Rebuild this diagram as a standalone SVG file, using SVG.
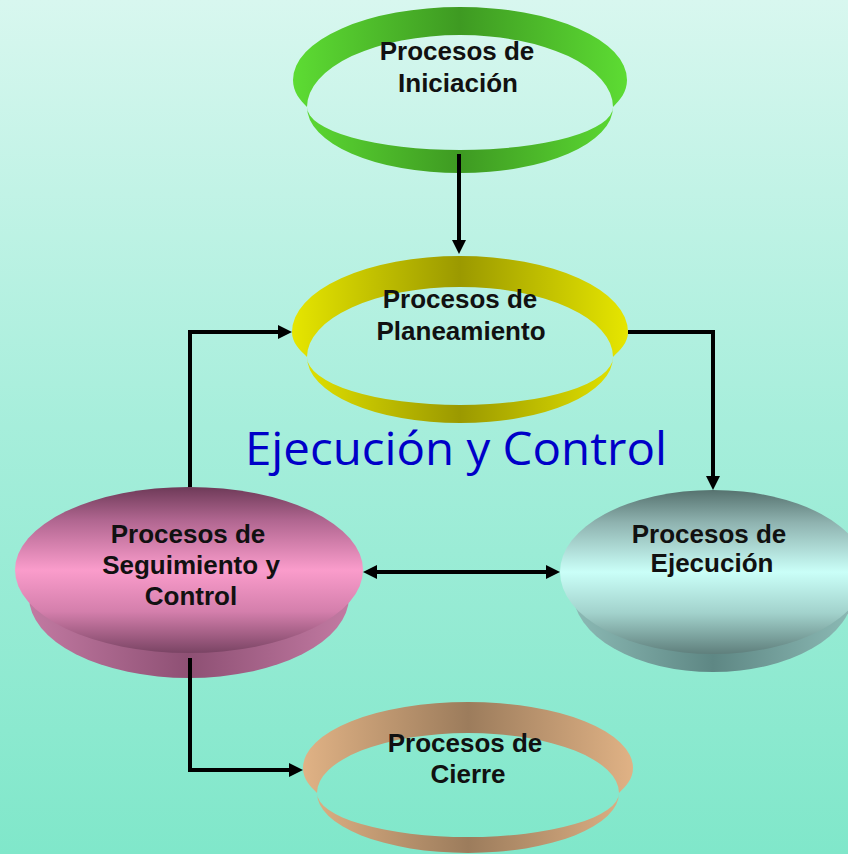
<svg xmlns="http://www.w3.org/2000/svg" width="848" height="854" viewBox="0 0 848 854">
<defs>
<linearGradient id="bg" x1="0" y1="0" x2="0" y2="1">
<stop offset="0" stop-color="#d8f7ef"/>
<stop offset="0.5" stop-color="#a6eedb"/>
<stop offset="1" stop-color="#80e7ca"/>
</linearGradient>
<linearGradient id="gGreen" x1="0" y1="0" x2="1" y2="0">
<stop offset="0" stop-color="#5ddc33"/>
<stop offset="0.5" stop-color="#3e9a22"/>
<stop offset="1" stop-color="#5ddc33"/>
</linearGradient>
<linearGradient id="gYellow" x1="0" y1="0" x2="1" y2="0">
<stop offset="0" stop-color="#e6e600"/>
<stop offset="0.5" stop-color="#9b9900"/>
<stop offset="1" stop-color="#e6e600"/>
</linearGradient>
<linearGradient id="gTan" x1="0" y1="0" x2="1" y2="0">
<stop offset="0" stop-color="#e0b285"/>
<stop offset="0.5" stop-color="#9c7c5c"/>
<stop offset="1" stop-color="#e0b285"/>
</linearGradient>
<linearGradient id="gPinkTop" x1="0" y1="0" x2="0" y2="1">
<stop offset="0" stop-color="#6e3a58"/>
<stop offset="0.2" stop-color="#b06690"/>
<stop offset="0.5" stop-color="#fa9ccb"/>
<stop offset="0.75" stop-color="#d47fac"/>
<stop offset="1" stop-color="#7a4464"/>
</linearGradient>
<linearGradient id="gPinkSide" x1="0" y1="0" x2="1" y2="0">
<stop offset="0" stop-color="#c27aa2"/>
<stop offset="0.5" stop-color="#8e5074"/>
<stop offset="1" stop-color="#c27aa2"/>
</linearGradient>
<linearGradient id="gCyanTop" x1="0" y1="0" x2="0" y2="1">
<stop offset="0" stop-color="#56726f"/>
<stop offset="0.2" stop-color="#8fb3b0"/>
<stop offset="0.5" stop-color="#cafff8"/>
<stop offset="0.75" stop-color="#a2d2cc"/>
<stop offset="1" stop-color="#5f7f7c"/>
</linearGradient>
<linearGradient id="gCyanSide" x1="0" y1="0" x2="1" y2="0">
<stop offset="0" stop-color="#8cbab5"/>
<stop offset="0.5" stop-color="#5e8784"/>
<stop offset="1" stop-color="#8cbab5"/>
</linearGradient>
<marker id="arr" viewBox="0 0 10 10" refX="2.86" refY="5" markerUnits="userSpaceOnUse" markerWidth="14" markerHeight="14" orient="auto-start-reverse">
<path d="M0,0 L10,5 L0,10 z" fill="#000"/>
</marker>
</defs>
<style>
.lbl{font-family:"Liberation Sans",Arial,sans-serif;font-weight:bold;font-size:26px;fill:#111;text-anchor:middle}
.conn{fill:none;stroke:#000;stroke-width:4;stroke-linejoin:miter}
.title{font-family:"Open Sans","Noto Sans",sans-serif;font-size:46px;fill:#0000c8}
</style>
<rect x="0" y="0" width="848" height="854" fill="url(#bg)"/>

<g id="iniciacion">
<path fill="url(#gGreen)" fill-rule="evenodd" d="M293,80 A167,73 0 0 1 627,80 C627,92 620,100 613,107 A153,66 0 0 1 307,107 C300,100 293,92 293,80 Z M307,107 A153,72 0 0 1 613,107 A153,43 0 0 1 307,107 Z"/>
<text class="lbl" x="457" y="60">Procesos de</text>
<text class="lbl" x="458" y="92">Iniciación</text>
</g>

<g id="planeamiento">
<path fill="url(#gYellow)" fill-rule="evenodd" d="M292,332 A168,76 0 0 1 628,332 C628,343 620,350 613,357 A153,66 0 0 1 307,357 C300,350 292,343 292,332 Z M307,357 A153,70 0 0 1 613,357 A153,48 0 0 1 307,357 Z"/>
<text class="lbl" x="460" y="308">Procesos de</text>
<text class="lbl" x="461" y="340">Planeamiento</text>
</g>

<g id="seguimiento">
<ellipse cx="189" cy="597" rx="160" ry="81" fill="url(#gPinkSide)"/>
<ellipse cx="189" cy="570" rx="174" ry="83" fill="url(#gPinkTop)"/>
<text class="lbl" x="188" y="543">Procesos de</text>
<text class="lbl" x="191" y="574">Seguimiento y</text>
<text class="lbl" x="191" y="605">Control</text>
</g>

<g id="ejecucion">
<ellipse cx="713" cy="592" rx="140" ry="80" fill="url(#gCyanSide)"/>
<ellipse cx="713" cy="572" rx="153" ry="82" fill="url(#gCyanTop)"/>
<text class="lbl" x="709" y="543">Procesos de</text>
<text class="lbl" x="712" y="572">Ejecución</text>
</g>

<g id="cierre">
<path fill="url(#gTan)" fill-rule="evenodd" d="M303,768 A165,66 0 0 1 633,768 C633,779 626,786 619,793 A151,60 0 0 1 317,793 C310,786 303,779 303,768 Z M317,793 A151,60 0 0 1 619,793 A151,44 0 0 1 317,793 Z"/>
<text class="lbl" x="465" y="752">Procesos de</text>
<text class="lbl" x="468" y="783">Cierre</text>
</g>

<g id="titulo">
<text class="title" x="245" y="465" textLength="422" lengthAdjust="spacingAndGlyphs">Ejecución y Control</text>
</g>

<g id="connectors">
<path class="conn" d="M459,154 V244" marker-end="url(#arr)"/>
<path class="conn" d="M190,487 V332 H282" marker-end="url(#arr)"/>
<path class="conn" d="M628,332 H713 V480" marker-end="url(#arr)"/>
<path class="conn" d="M373,572 H550" marker-start="url(#arr)" marker-end="url(#arr)"/>
<path class="conn" d="M190,658 V770 H293" marker-end="url(#arr)"/>
</g>
</svg>
